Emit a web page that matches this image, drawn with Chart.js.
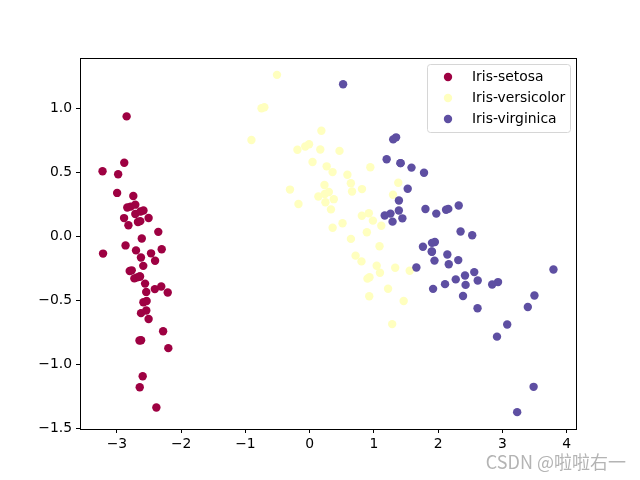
<!DOCTYPE html>
<html>
<head>
<meta charset="utf-8">
<script src="https://cdn.jsdelivr.net/npm/chart.js@4/dist/chart.umd.min.js"></script>
<style>
  html, body { margin: 0; padding: 0; background: #fff; }
  #wrap { position: relative; width: 640px; height: 480px; }
  #watermark {
    position: absolute; right: 14px; bottom: 6px;
    font-family: "Noto Sans CJK SC", "DejaVu Sans", sans-serif;
    font-size: 18px; color: #b4b4b4;
  }
</style>
</head>
<body>
<div id="wrap">
  <canvas id="pcaChart" width="640" height="480"></canvas>
  <div id="watermark">CSDN @啦啦右一</div>
</div>
<script>
// PCA projection of the iris data (x = PC1, y = PC2 as plotted)
const setosaX = [-2.684, -2.714, -2.889, -2.745, -2.729, -2.281, -2.821, -2.626, -2.886, -2.673,
  -2.507, -2.613, -2.786, -3.224, -2.645, -2.386, -2.624, -2.648, -2.200, -2.588,
  -2.310, -2.544, -3.216, -2.303, -2.356, -2.507, -2.469, -2.562, -2.640, -2.632,
  -2.587, -2.410, -2.649, -2.599, -2.637, -2.866, -2.625, -2.801, -2.981, -2.590,
  -2.770, -2.849, -2.997, -2.406, -2.209, -2.714, -2.538, -2.839, -2.543, -2.703];
const setosaY = [-0.319, 0.177, 0.145, 0.318, -0.327, -0.741, 0.089, -0.163, 0.578, 0.114,
  -0.645, -0.015, 0.235, 0.511, -1.179, -1.338, -0.811, -0.312, -0.873, -0.514,
  -0.391, -0.433, -0.133, -0.099, 0.037, 0.146, -0.131, -0.368, -0.312, 0.197,
  0.204, -0.411, -0.813, -1.093, 0.121, -0.069, -0.599, -0.269, 0.488, -0.229,
  -0.264, 0.941, 0.342, -0.189, -0.437, 0.250, -0.504, 0.228, -0.579, -0.108];

const versicolorX = [1.285, 0.932, 1.464, 0.183, 1.088, 0.642, 1.095, -0.749, 1.044, -0.009,
  -0.508, 0.512, 0.265, 0.985, -0.174, 0.928, 0.660, 0.236, 0.945, 0.045,
  1.116, 0.358, 1.298, 0.922, 0.715, 0.900, 1.332, 1.558, 0.813, -0.306,
  -0.068, -0.190, 0.136, 1.380, 0.588, 0.807, 1.221, 0.815, 0.246, 0.166,
  0.465, 0.891, 0.231, -0.705, 0.357, 0.332, 0.376, 0.643, -0.906, 0.299];
const versicolorY = [-0.685, -0.318, -0.504, 0.828, -0.075, 0.418, -0.283, 1.005, -0.228, 0.723,
  1.266, 0.104, 0.550, 0.125, 0.255, -0.467, 0.353, 0.334, 0.543, 0.584,
  0.085, 0.069, 0.328, 0.183, -0.149, -0.329, -0.244, -0.267, 0.163, 0.368,
  0.705, 0.680, 0.314, 0.421, 0.484, -0.194, -0.408, 0.372, 0.269, 0.682,
  0.671, 0.034, 0.404, 1.012, 0.505, 0.213, 0.293, -0.018, 0.756, 0.349];

const virginicaX = [2.531, 1.415, 2.617, 1.972, 2.350, 3.397, 0.521, 2.933, 2.321, 2.917,
  1.662, 1.803, 2.166, 1.346, 1.586, 1.904, 1.950, 3.487, 3.796, 1.301,
  2.428, 1.199, 3.500, 1.389, 2.275, 2.614, 1.259, 1.291, 2.124, 2.388,
  2.842, 3.231, 2.159, 1.444, 1.781, 3.076, 2.144, 1.905, 1.169, 2.108,
  2.314, 1.922, 1.415, 2.563, 2.419, 1.944, 1.527, 1.764, 1.901, 1.390];
const virginicaY = [0.010, 0.575, -0.344, 0.180, 0.040, -0.551, 1.193, -0.356, 0.244, -0.783,
  -0.242, 0.216, -0.216, 0.777, 0.540, -0.119, -0.042, -1.176, -0.257, 0.761,
  -0.378, 0.606, -0.461, 0.204, -0.335, -0.561, 0.180, 0.117, 0.210, -0.465,
  -0.375, -1.374, 0.217, 0.143, 0.500, -0.688, -0.140, -0.049, 0.165, -0.372,
  -0.184, -0.409, 0.575, -0.278, -0.305, -0.188, 0.375, -0.079, -0.117, 0.283];

const classNames = ['Iris-setosa', 'Iris-versicolor', 'Iris-virginica'];
const classColors = ['#9e0142', '#ffffbf', '#5e4fa2'];
const xTicks = [-3, -2, -1, 0, 1, 2, 3, 4];
const yTicks = [-1.5, -1.0, -0.5, 0.0, 0.5, 1.0];

function toPoints(xs, ys) {
    return xs.map((x, i) => ({ x: x, y: ys[i] }));
}

function fmt(v, digits) {
    const s = Math.abs(v).toFixed(digits);
    return v < 0 ? '\u2212' + s : s;
}

const fontFamily = '"DejaVu Sans", sans-serif';

// axes frame on all four sides
const framePlugin = {
    id: 'frame',
    afterDraw(chart) {
        const a = chart.chartArea;
        const ctx = chart.ctx;
        ctx.save();
        ctx.strokeStyle = '#000';
        ctx.lineWidth = 1;
        ctx.strokeRect(Math.round(a.left) + 0.5, Math.round(a.top) + 0.5,
            Math.round(a.right - a.left), Math.round(a.bottom - a.top));
        ctx.restore();
    }
};

// matplotlib-like legend box in the upper right
const legendPlugin = {
    id: 'mplLegend',
    afterDraw(chart) {
        const a = chart.chartArea;
        const ctx = chart.ctx;
        const w = 143, h = 68;
        const x0 = a.right - 6 - w, y0 = a.top + 6;
        ctx.save();
        ctx.fillStyle = 'rgba(255,255,255,0.8)';
        ctx.strokeStyle = '#d6d6d6';
        ctx.lineWidth = 1;
        ctx.beginPath();
        ctx.roundRect(x0 + 0.5, y0 + 0.5, w, h, 3);
        ctx.fill();
        ctx.stroke();
        ctx.font = '13.9px ' + fontFamily;
        ctx.textBaseline = 'middle';
        chart.data.datasets.forEach((ds, i) => {
            const cy = y0 + 13 + i * 21;
            ctx.fillStyle = ds.backgroundColor;
            ctx.beginPath();
            ctx.arc(x0 + 21, cy, 4.2, 0, Math.PI * 2);
            ctx.fill();
            ctx.fillStyle = '#000';
            ctx.fillText(ds.label, x0 + 45, cy);
        });
        ctx.restore();
    }
};

const datasets = [
    toPoints(setosaX, setosaY),
    toPoints(versicolorX, versicolorY),
    toPoints(virginicaX, virginicaY)
].map((pts, i) => ({
    label: classNames[i],
    data: pts,
    backgroundColor: classColors[i],
    borderWidth: 0,
    pointRadius: 4.2,
    pointHoverRadius: 4.2,
    order: 3 - i
}));

new Chart(document.getElementById('pcaChart'), {
    type: 'scatter',
    data: { datasets: datasets },
    options: {
        responsive: false,
        animation: false,
        events: [],
        layout: { padding: { top: 58, right: 64, left: 0, bottom: 0 } },
        plugins: { legend: { display: false }, tooltip: { enabled: false } },
        scales: {
            x: {
                type: 'linear',
                min: -3.575,
                max: 4.147,
                afterFit: s => { s.height = 51; },
                afterBuildTicks: s => { s.ticks = xTicks.map(v => ({ value: v })); },
                grid: { display: true, drawOnChartArea: false, drawTicks: true, tickLength: 4, color: '#000' },
                border: { display: true, color: '#000' },
                ticks: {
                    color: '#000',
                    font: { family: fontFamily, size: 13.9 },
                    padding: 3,
                    maxRotation: 0,
                    callback: v => fmt(v, 0)
                }
            },
            y: {
                type: 'linear',
                min: -1.506,
                max: 1.398,
                afterFit: s => { s.width = 80; },
                afterBuildTicks: s => { s.ticks = yTicks.map(v => ({ value: v })); },
                grid: { display: true, drawOnChartArea: false, drawTicks: true, tickLength: 4, color: '#000' },
                border: { display: true, color: '#000' },
                ticks: {
                    color: '#000',
                    font: { family: fontFamily, size: 13.9 },
                    padding: 4,
                    callback: v => fmt(v, 1)
                }
            }
        }
    },
    plugins: [framePlugin, legendPlugin]
});
</script>
</body>
</html>
